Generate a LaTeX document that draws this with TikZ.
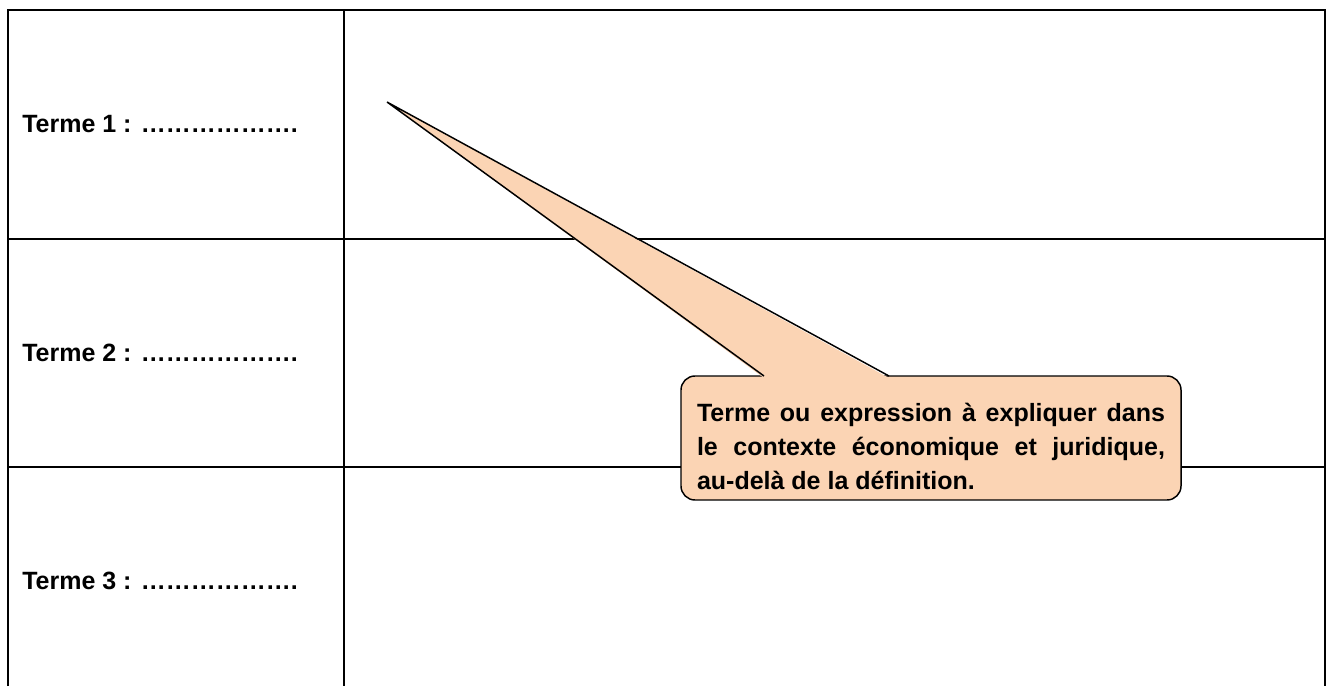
\documentclass[tikz,border=0pt]{standalone}
\usepackage{fontspec}
\setmainfont{Liberation Sans}
\usetikzlibrary{positioning}
\definecolor{peach}{HTML}{FBD4B4}

\begin{document}
\begin{tikzpicture}
		[x=0.75pt, y=-0.75pt, font=\fontsize{18.75}{25.5}\selectfont\bfseries,
		grid/.style		= {line width=1.5pt},
		term/.style		= {anchor=base west, inner sep=0pt},
		note/.style		= {rectangle, draw, fill=peach, rounded corners=10.5pt, line width=1.1pt, inner sep=0pt, minimum width=375pt, minimum height=93pt},
		notetext/.style	= {text width=351pt, align=justify, inner sep=0pt},
		pointer/.style	= {line width=1.1pt}]
		
		\useasboundingbox (0,0) rectangle (1327,686);
		
		\draw [grid] (8,686) -- (8,10) -- (1325,10) -- (1325,686);
		\draw [grid] (344,10) -- (344,686);
		\draw [grid] (8,239) -- (1325,239);
		\draw [grid] (8,467) -- (1325,467);
		
		\node at (22,132)	[term]	(t1)	{Terme 1 : ……………….};
		\node at (22,361)	[term]	(t2)	{Terme 2 : ……………….};
		\node at (22,589)	[term]	(t3)	{Terme 3 : ……………….};
		
		\node at (931,438)	[note]	(box)	{};
		\coordinate (tip) at (387,102);
		\coordinate (base1) at (764,376);
		\coordinate (base2) at (889,376);
		
		\fill [peach] ([yshift=-1.5pt]base1) -- (tip) -- ([yshift=-1.5pt]base2) -- cycle;
		\draw [pointer] (base1) -- (tip) -- (base2);
		
		\node at (box.center) [notetext, yshift=-6pt] (words) {Terme ou expression à expliquer dans\linebreak le contexte économique et juridique,\linebreak au-delà de la définition.};
		
		\end{tikzpicture}
\end{document}
